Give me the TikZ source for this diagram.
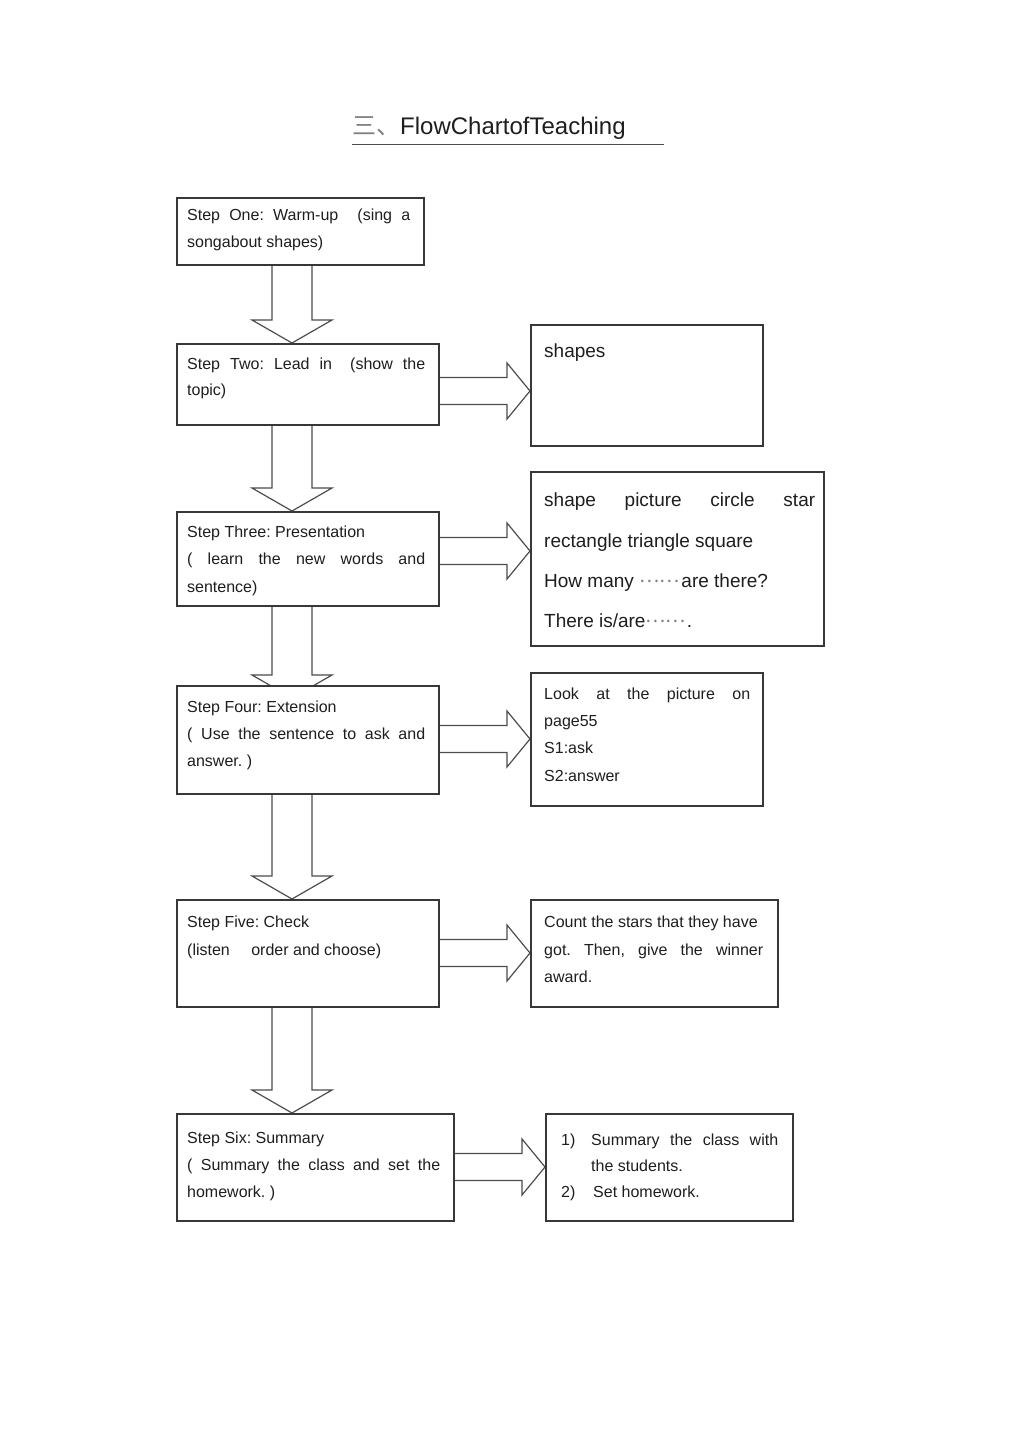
\documentclass[tikz,border=0pt]{standalone}
\usepackage{fontspec}
\setmainfont{Liberation Sans}
\newfontfamily\cjk{Noto Sans CJK SC}
\usetikzlibrary{calc}
\pgfdeclarelayer{bg}
\pgfsetlayers{bg,main}
\frenchspacing
\definecolor{boxline}{HTML}{383838}
\definecolor{arrline}{HTML}{4C4C4C}
\definecolor{ink}{HTML}{1E1E1E}
\tikzset{
  box/.style={draw=boxline, line width=1.6pt, fill=white, rectangle, inner sep=0pt, anchor=north west},
  blockarr/.style={draw=arrline, line width=1.2pt, line join=miter},
  txt/.style={anchor=base west, inner sep=0pt, text=ink, font=\fontsize{16}{19}\selectfont},
  big/.style={anchor=base west, inner sep=0pt, text=ink, font=\fontsize{19}{23}\selectfont},
}
\newcommand\middots{\raisebox{5pt}{\color{gray}\cjk……}}
\newcommand\dnarrow[3]{%
  \coordinate (dc) at ($(#1.south west)+(116,0)$);
  \coordinate (dt0) at (dc |- #2.north);
  \coordinate (dt) at ($(dt0)+(0,#3)$);
  \draw[blockarr] ($(dc)+(-20,0)$) -- ($(dt)+(-20,-23)$) -- ($(dt)+(-40,-23)$) -- (dt)
     -- ($(dt)+(40,-23)$) -- ($(dt)+(20,-23)$) -- ($(dc)+(20,0)$);}
\newcommand\rtarrow[3]{%
  \coordinate (rc) at ($(#1.north east)+(0,#3)$);
  \coordinate (rt) at (#2.west |- rc);
  \draw[blockarr] ($(rc)+(0,-13.5)$) -- ($(rt)+(-23,-13.5)$) -- ($(rt)+(-23,-28)$) -- (rt)
     -- ($(rt)+(-23,28)$) -- ($(rt)+(-23,13.5)$) -- ($(rc)+(0,13.5)$);}
\begin{document}
\begin{tikzpicture}[x=1pt,y=-1pt]
\useasboundingbox (0,0) rectangle (1024,1450);

% title
\node[anchor=base west, inner sep=0pt, text=ink, font=\fontsize{24}{28}\selectfont] (title) at (352,135) {{\cjk\color{gray}三、}FlowChartofTeaching};
\coordinate (ulA) at (352,145);
\coordinate (ulB) at (664,145);
\draw[draw=arrline, line width=1pt] (ulA) -- (ulB);

% boxes
\node[box, minimum width=247pt, minimum height=67pt] (s1) at (176,197) {};
\node[box, minimum width=262pt, minimum height=81pt] (s2) at (176,343) {};
\node[box, minimum width=232pt, minimum height=121pt] (r2) at (530,324) {};
\node[box, minimum width=262pt, minimum height=94pt] (s3) at (176,511) {};
\node[box, minimum width=293pt, minimum height=174pt] (r3) at (530,471) {};
\node[box, minimum width=262pt, minimum height=108pt] (s4) at (176,685) {};
\node[box, minimum width=232pt, minimum height=133pt] (r4) at (530,672) {};
\node[box, minimum width=262pt, minimum height=107pt] (s5) at (176,899) {};
\node[box, minimum width=247pt, minimum height=107pt] (r5) at (530,899) {};
\node[box, minimum width=277pt, minimum height=107pt] (s6) at (176,1113) {};
\node[box, minimum width=247pt, minimum height=107pt] (r6) at (545,1113) {};

% block arrows
\begin{pgfonlayer}{bg}
\dnarrow{s1}{s2}{0}
\dnarrow{s2}{s3}{0}
\dnarrow{s3}{s4}{13}
\dnarrow{s4}{s5}{0}
\dnarrow{s5}{s6}{0}
\rtarrow{s2}{r2}{48}
\rtarrow{s3}{r3}{40}
\rtarrow{s4}{r4}{54}
\rtarrow{s5}{r5}{54}
\rtarrow{s6}{r6}{54}
\end{pgfonlayer}

% step one
\node[txt] (t1a) at (187,220) {\makebox[223pt][s]{Step One: Warm-up\hspace{10pt} (sing a}};
\node[txt] (t1b) at (187,247) {songabout shapes)};
% step two
\node[txt] (t2a) at (187,369) {\makebox[238pt][s]{Step Two: Lead in\hspace{8pt} (show the}};
\node[txt] (t2b) at (187,395) {topic)};
\node[big] (u2) at (544,357) {shapes};
% step three
\node[txt] (t3a) at (187,537) {Step Three: Presentation};
\node[txt] (t3b) at (187,564) {\makebox[238pt][s]{( learn the new words and}};
\node[txt] (t3c) at (187,592) {sentence)};
\node[big] (u3a) at (544,506) {\makebox[271pt][s]{shape picture circle star}};
\node[big] (u3b) at (544,547) {rectangle triangle square};
\node[big] (u3c) at (544,587) {How many \middots\hspace{2pt}are there?};
\node[big] (u3d) at (544,627) {There is/are\middots\hspace{1pt}.};
% step four
\node[txt] (t4a) at (187,712) {Step Four: Extension};
\node[txt] (t4b) at (187,739) {\makebox[238pt][s]{( Use the sentence to ask and}};
\node[txt] (t4c) at (187,766) {answer. )};
\node[txt] (u4a) at (544,699) {\makebox[206pt][s]{Look at the picture on}};
\node[txt] (u4b) at (544,726) {page55};
\node[txt] (u4c) at (544,753) {S1:ask};
\node[txt] (u4d) at (544,781) {S2:answer};
% step five
\node[txt] (t5a) at (187,927) {Step Five: Check};
\node[txt] (t5b) at (187,955) {(listen\hspace{17pt} order and choose)};
\node[txt] (u5a) at (544,927) {Count the stars that they have};
\node[txt] (u5b) at (544,955) {\makebox[219pt][s]{got. Then, give the winner}};
\node[txt] (u5c) at (544,982) {award.};
% step six
\node[txt] (t6a) at (187,1143) {Step Six: Summary};
\node[txt] (t6b) at (187,1170) {\makebox[253pt][s]{( Summary the class and set the}};
\node[txt] (t6c) at (187,1197) {homework. )};
\node[txt] (u6n1) at (561,1145) {1)};
\node[txt] (u6a) at (591,1145) {\makebox[187pt][s]{Summary the class with}};
\node[txt] (u6b) at (591,1171) {the students.};
\node[txt] (u6n2) at (561,1197) {2)};
\node[txt] (u6c) at (593,1197) {Set homework.};
\end{tikzpicture}
\end{document}
